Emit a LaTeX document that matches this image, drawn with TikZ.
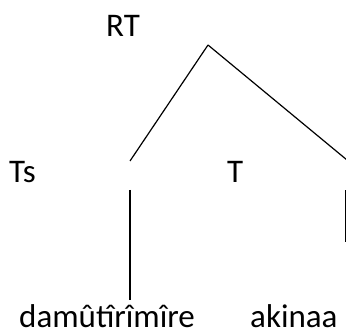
\documentclass[tikz,border=0pt]{standalone}
\usepackage{fontspec}
\setmainfont{Carlito}
\usepackage{tikz}

\begin{document}
\begin{tikzpicture}[x=1pt, y=-1pt,
	treelabel/.style={inner sep=0pt, anchor=base west, text depth=0pt, font=\fontsize{33}{36}\selectfont},
	branch/.style={line width=1.2pt}]
			\useasboundingbox (0, 0) rectangle (346, 331);
			
			%Level 1
			\node[treelabel] (rt) at (106, 37) {RT};
			\coordinate (apex) at (208, 45);
			
			%Level 2
			\node[treelabel] (ts) at (9, 183) {Ts};
			\node[treelabel] (t) at (227, 183) {T};
			\coordinate (tsfoot) at (130, 161);
			\coordinate (tfoot) at (347, 160);
			
			%Lines
			\draw[branch] (apex) -- (tsfoot);
			\draw[branch] (apex) -- (tfoot);
			
			%Level 3
			\coordinate (tstop) at (130, 190);
			\coordinate (tsend) at (130, 300);
			\coordinate (ttop) at (346, 190);
			\coordinate (tend) at (346, 242);
			\draw[branch] (tstop) -- (tsend);
			\draw[branch] (ttop) -- (tend);
			
			%Words
			\node[treelabel] (word1) at (19, 328) {damûtîrîmîre};
			\node[treelabel] (word2) at (250, 328) {akinaa};
\end{tikzpicture}
\end{document}
